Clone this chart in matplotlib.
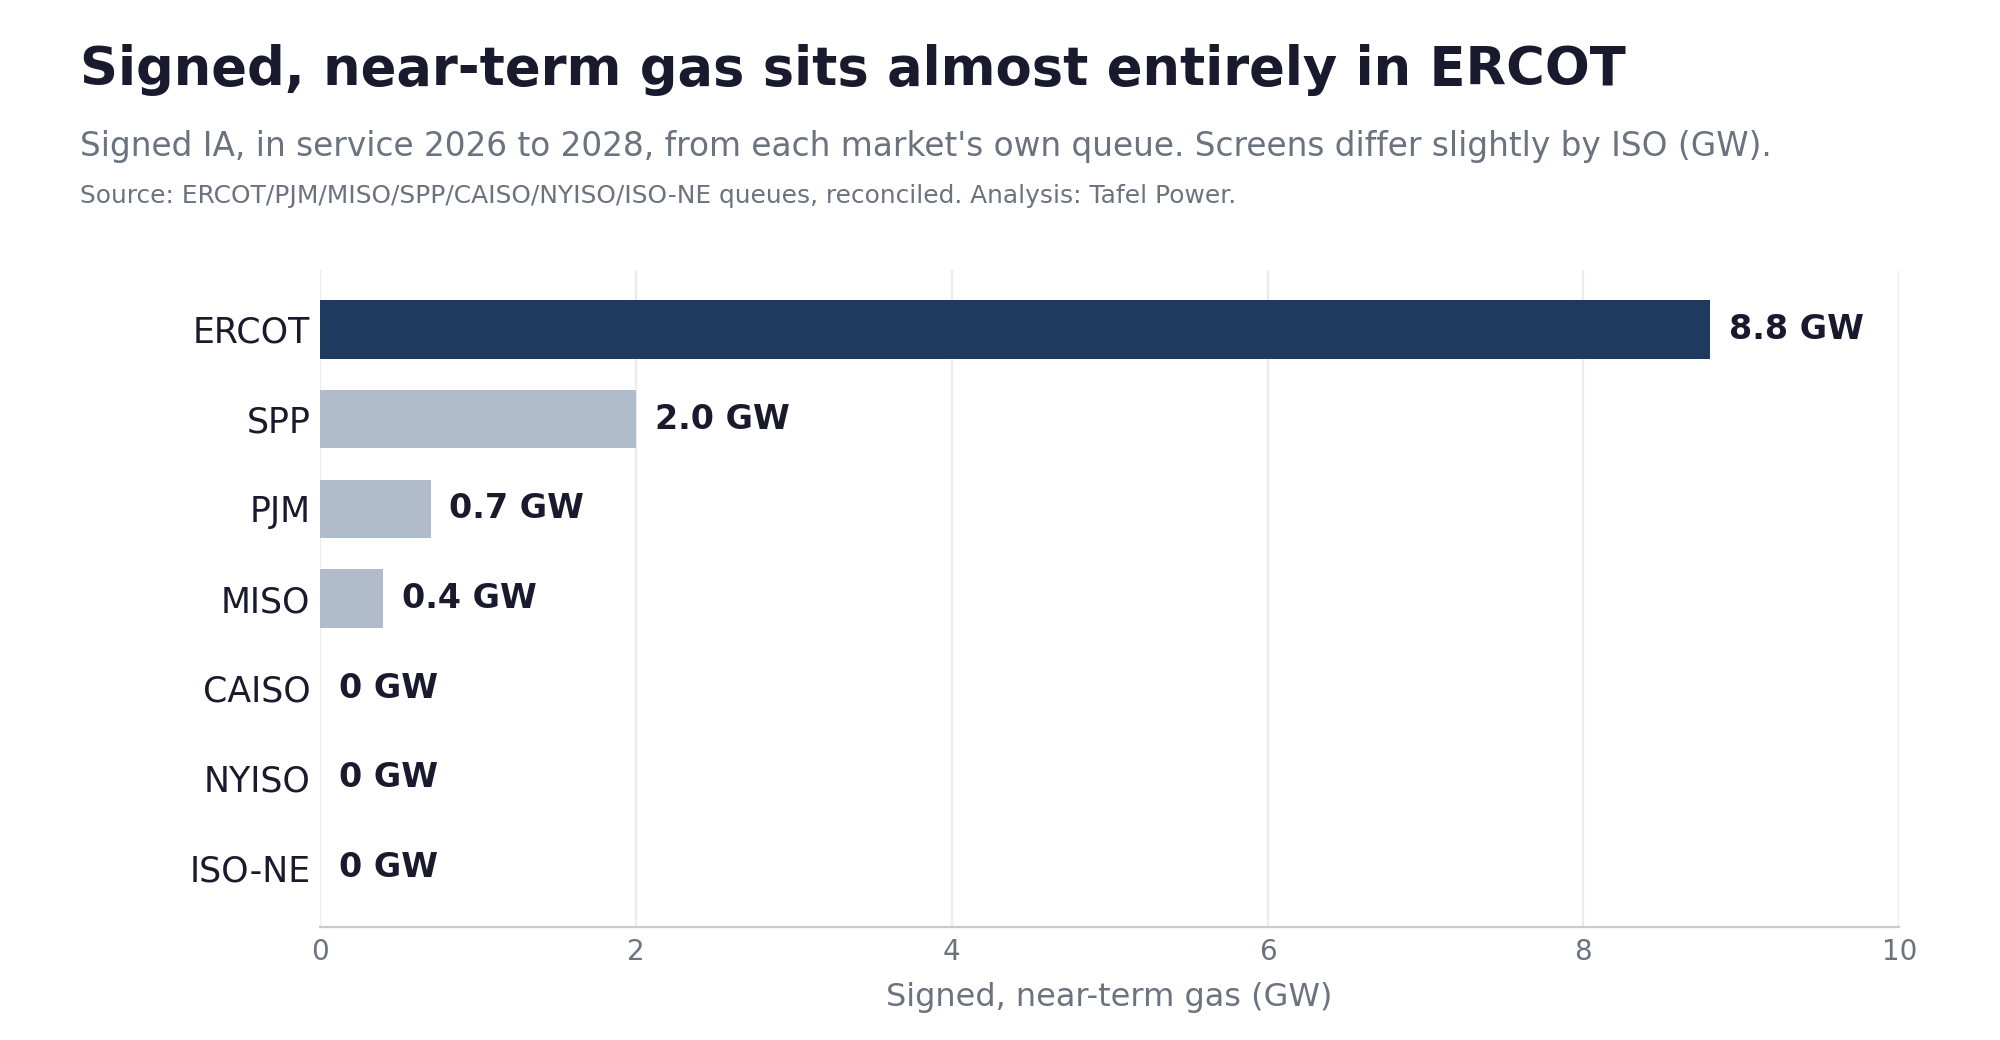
import matplotlib.pyplot as plt

markets = ['ERCOT', 'SPP', 'PJM', 'MISO', 'CAISO', 'NYISO', 'ISO-NE']
gw = [8.8, 2.0, 0.7, 0.4, 0.0, 0.0, 0.0]
labels = ['8.8 GW', '2.0 GW', '0.7 GW', '0.4 GW', '0 GW', '0 GW', '0 GW']
xticks = [0, 2, 4, 6, 8, 10]

dark = '#1a1a2e'
grey = '#6b7280'
navy = '#1f3a5f'
light = '#b0bccb'

fig = plt.figure(figsize=(10, 5.2), dpi=200)
ax = fig.add_axes([0.160, 0.109, 0.7896, 0.631])

colors = [navy] + [light] * (len(markets) - 1)
ypos = list(range(len(markets)))
ax.barh(ypos, gw, height=0.65, color=colors, zorder=2)
ax.invert_yaxis()

for y, v, lab in zip(ypos, gw, labels):
    ax.text(v + 0.12, y, lab, va='center', ha='left', fontsize=12,
            fontweight='bold', color=dark, zorder=3)

ax.set_xlim(0, 10)
ax.set_xticks(xticks)
ax.set_yticks(ypos)
ax.set_yticklabels(markets)
ax.tick_params(axis='y', length=0, pad=3.5, labelsize=12.5, labelcolor=dark)
ax.tick_params(axis='x', length=0, pad=4, labelsize=10, labelcolor=grey)
ax.grid(axis='x', color='#ebebf0', linewidth=0.8, zorder=0)
for s in ['top', 'right', 'left']:
    ax.spines[s].set_visible(False)
ax.spines['bottom'].set_color('#c8ccd2')
ax.spines['bottom'].set_linewidth(0.8)
ax.set_xlabel('Signed, near-term gas (GW)', fontsize=11.5, color=grey, labelpad=6)

fig.text(0.040, 0.918, 'Signed, near-term gas sits almost entirely in ERCOT',
         fontsize=19, fontweight='bold', color=dark, va='baseline')
fig.text(0.040, 0.850, "Signed IA, in service 2026 to 2028, from each market's own queue. "
         "Screens differ slightly by ISO (GW).", fontsize=11.8, color=grey, va='baseline')
fig.text(0.040, 0.805, 'Source: ERCOT/PJM/MISO/SPP/CAISO/NYISO/ISO-NE queues, reconciled. '
         'Analysis: Tafel Power.', fontsize=8.95, color=grey, va='baseline')

fig.savefig('out.png', dpi=200, facecolor='white')
